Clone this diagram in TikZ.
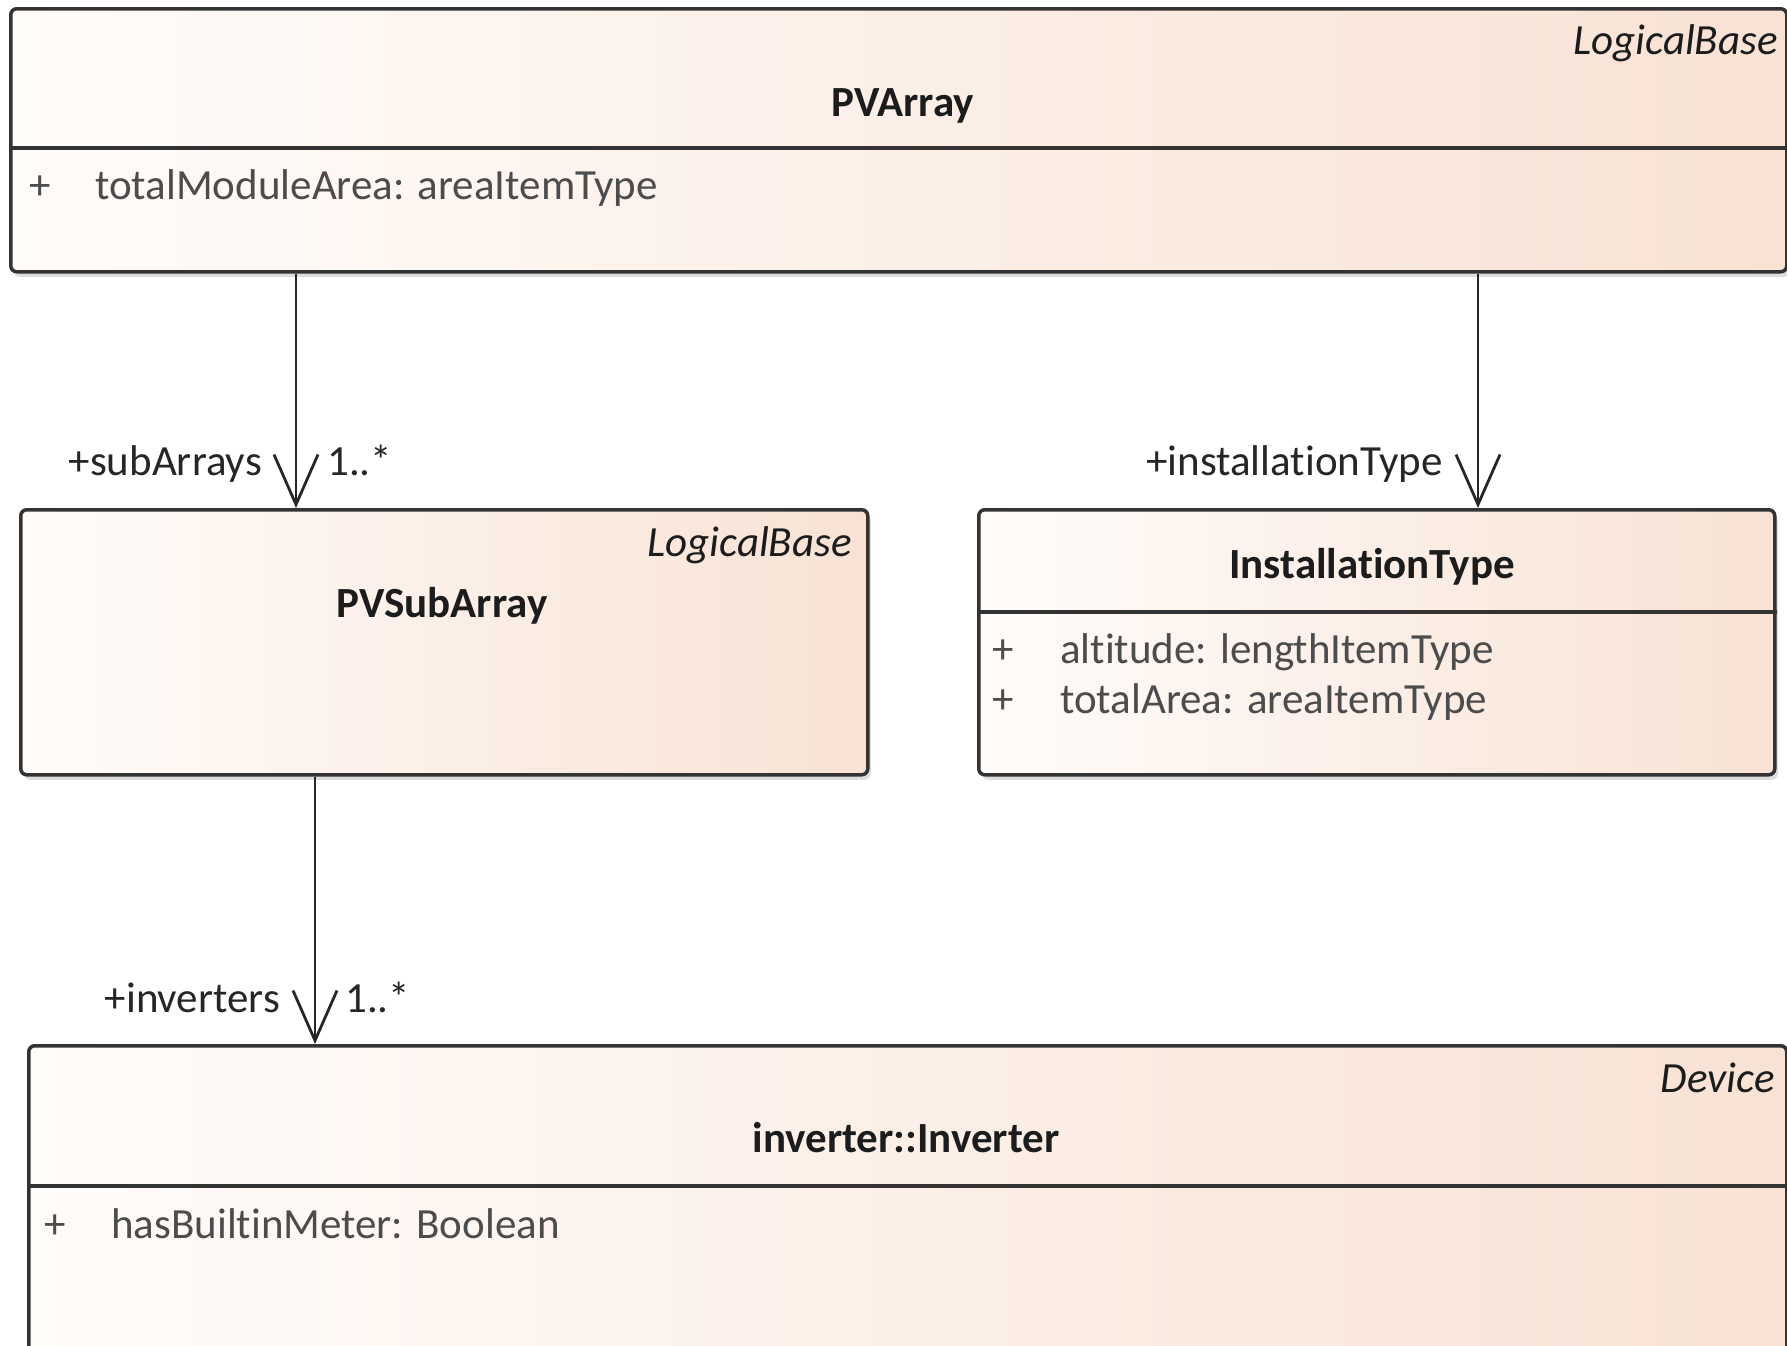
\documentclass[tikz,border=0pt]{standalone}
\usepackage{fontspec}
\setmainfont{Carlito}[Ligatures={NoCommon}]
\usetikzlibrary{arrows.meta,shadows}

\definecolor{boxline}{HTML}{333333}
\definecolor{boxleft}{HTML}{FFFCFA}
\definecolor{boxright}{HTML}{F8E2D4}
\definecolor{attrtext}{HTML}{4C4C4C}
\definecolor{titletext}{HTML}{1C1C1C}
\definecolor{linktext}{HTML}{262626}

\begin{document}
\begin{tikzpicture}[x=1pt,y=-1pt,
  classbox/.style={draw=boxline, line width=3.5pt, rounded corners=6pt,
    left color=boxleft, right color=boxright, anchor=north west, inner sep=0pt,
    drop shadow={shadow xshift=3pt, shadow yshift=-5pt, opacity=0.22, fill=black!60}},
  divider/.style={draw=boxline, line width=3.5pt},
  txt/.style={font=\fontsize{43}{50}\selectfont, inner sep=0pt},
  title/.style={txt, font=\fontsize{43}{50}\selectfont\bfseries, text=titletext, anchor=base},
  stereo/.style={txt, font=\fontsize{43}{50}\selectfont\itshape, text=titletext, anchor=base east},
  attr/.style={txt, text=attrtext, anchor=base west},
  vis/.style={txt, text=attrtext, anchor=base},
  role/.style={txt, text=linktext, anchor=base east},
  mult/.style={txt, text=linktext, anchor=base west},
  assoc/.style={draw=black!85, line width=2.8pt,
    -{Straight Barb[length=50pt,width=44pt,line width=2.8pt]}}
]
\useasboundingbox (0,0) rectangle (1787,1345);
\fill[white] (0,0) rectangle (1787,1345);
\clip (0,0) rectangle (1787,1345);

% PVArray class
\node[classbox, minimum width=1776pt, minimum height=263pt] (pvarray) at (9,7) {};
\draw[divider] (pvarray.west |- 0,148) -- (pvarray.east |- 0,148);
\node[stereo] (pvarrayStereo) at (1778,54) {LogicalBase};
\node[title] (pvarrayTitle) at (903,116) {PVArray};
\node[vis] (pvarrayVis) at (40,199) {+};
\node[attr] (pvarrayAttr) at (95,199) {totalModuleArea: areaItemType};

% PVSubArray class
\node[classbox, minimum width=847pt, minimum height=265pt] (pvsub) at (19,508) {};
\node[stereo] (pvsubStereo) at (852,556) {LogicalBase};
\node[title] (pvsubTitle) at (442,617) {PVSubArray};

% InstallationType class
\node[classbox, minimum width=796pt, minimum height=265pt] (insttype) at (977,508) {};
\draw[divider] (insttype.west |- 0,612) -- (insttype.east |- 0,612);
\node[title] (insttypeTitle) at (1372,578) {InstallationType};
\node[vis] (insttypeVis1) at (1003,663) {+};
\node[attr] (insttypeAttr1) at (1060,663) {altitude: lengthItemType};
\node[vis] (insttypeVis2) at (1003,713) {+};
\node[attr] (insttypeAttr2) at (1060,713) {totalArea: areaItemType};

% inverter::Inverter class
\node[classbox, minimum width=1758pt, minimum height=340pt] (inverter) at (27,1044) {};
\draw[divider] (inverter.west |- 0,1186) -- (inverter.east |- 0,1186);
\node[stereo] (inverterStereo) at (1775,1092) {Device};
\node[title] (inverterTitle) at (906,1152) {inverter::Inverter};
\node[vis] (inverterVis) at (55,1238) {+};
\node[attr] (inverterAttr) at (111,1238) {hasBuiltinMeter: Boolean};

% associations
\draw[assoc] (pvarray.south -| 296,0) -- (pvsub.north -| 296,0);
\node[role] (subRole) at (262,475) {+subArrays};
\node[mult] (subMult) at (327,475) {1..*};

\draw[assoc] (pvarray.south -| 1478,0) -- (insttype.north -| 1478,0);
\node[role] (instRole) at (1443,475) {+installationType};

\draw[assoc] (pvsub.south -| 315,0) -- (inverter.north -| 315,0);
\node[role] (invRole) at (280,1012) {+inverters};
\node[mult] (invMult) at (345,1012) {1..*};
\end{tikzpicture}
\end{document}
